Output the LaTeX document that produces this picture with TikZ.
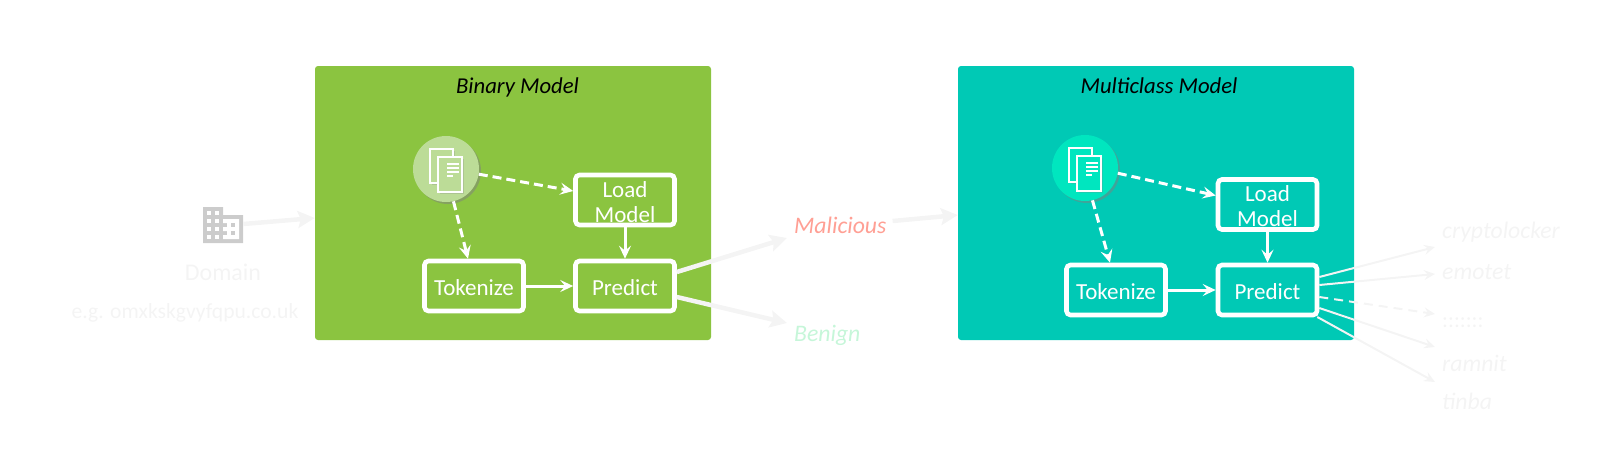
\documentclass[tikz,border=0pt]{standalone}
\usepackage{fontspec}
\setmainfont{Carlito}
\usetikzlibrary{arrows.meta,shadows}

\definecolor{binarygreen}{HTML}{8BC440}
\definecolor{multiteal}{HTML}{00C9B5}
\definecolor{bincircle}{HTML}{BCDC97}
\definecolor{multicircle}{HTML}{00E6BF}
\definecolor{fadedgray}{HTML}{F4F4F4}
\definecolor{maliciousred}{HTML}{FF9F94}
\definecolor{benigngreen}{HTML}{C6F6D9}

\tikzset{
	modelbox/.style={rounded corners=3pt, minimum width=396pt, minimum height=274pt, inner sep=0pt},
	modeltitle/.style={anchor=base, inner sep=0pt, font=\fontsize{22.7}{26}\selectfont\itshape},
	procbox/.style={draw=white, line width=4.6pt, rounded corners=4pt, minimum width=99pt, minimum height=50pt, inner sep=0pt, text=white, align=center, font=\fontsize{23}{25}\selectfont, text height=18pt, text depth=0pt},
	loadbox/.style={procbox, text height=44pt},
	flow/.style={white, line width=3pt, -{Stealth[length=13pt,width=12pt,inset=5pt]}},
	dashflow/.style={flow, dash pattern=on 9pt off 5pt},
	fadedflow/.style={fadedgray, line width=4.5pt, -{Stealth[length=17pt,width=17pt,inset=3pt]}},
	classflow/.style={fadedgray, line width=2pt, -{Stealth[length=11pt,width=10pt,inset=4pt]}},
	outlabel/.style={anchor=base west, inner sep=0pt, font=\fontsize{23.7}{27}\selectfont\itshape},
	classlabel/.style={outlabel, text=fadedgray},
	doccircle/.style={circle, minimum size=66pt, inner sep=0pt, drop shadow={shadow xshift=2pt, shadow yshift=-2pt, opacity=0.5}}
}

% two overlapping pages with text lines
\newcommand{\docicon}[2]{
	\begin{scope}[shift={(#1)}]
		\draw [white, line width=1.5pt, fill=#2, drop shadow={shadow xshift=1.5pt, shadow yshift=-1.5pt, opacity=0.25}] (-16,-20) rectangle (7,14);
		\draw [white, line width=1.5pt, fill=#2, drop shadow={shadow xshift=1.5pt, shadow yshift=-1.5pt, opacity=0.25}] (-8,-12) rectangle (16,23);
		\foreach \y/\e in {-5/13,-1/13,3/13,7/7}
			\draw [white, line width=1.4pt] (1,\y) -- (\e,\y);
	\end{scope}
}

\begin{document}
\begin{tikzpicture}[x=1pt,y=-1pt]

	\useasboundingbox (0,0) rectangle (1600,448);

	% model panels
	\node [modelbox, fill=binarygreen] (binary) at (513,203) {};
	\node [modelbox, fill=multiteal] (multi) at (1156,203) {};
	\node [modeltitle] (binarytitle) at (517.5,93) {Binary Model};
	\node [modeltitle] (multititle) at (1159,93) {Multiclass Model};

	% domain icon
	\node [minimum width=40pt, minimum height=36pt, inner sep=0pt] (domainicon) at (223,225) {};
	\begin{scope}[shift={(199,201)},x=2pt,y=-2pt]
		\fill [black!20] (2,3) -- (12,3) -- (12,7) -- (22,7) -- (22,21) -- (2,21) -- cycle;
		\foreach \i in {4,8}
			\foreach \j in {5,9,13,17}
				\fill [white] (\i,\j) rectangle ++(2,2);
		\fill [white] (12,9) -- (20,9) -- (20,19) -- (12,19) -- (12,17) -- (14,17) -- (14,15) -- (12,15) -- (12,13) -- (14,13) -- (14,11) -- (12,11) -- cycle;
		\foreach \j in {11,15}
			\fill [black!20] (16,\j) rectangle ++(2,2);
	\end{scope}
	\node [anchor=base, inner sep=0pt, text=fadedgray, font=\fontsize{24}{26}\selectfont] (domain) at (223,280) {Domain};
	\node [anchor=base, inner sep=0pt, text=fadedgray, font=\fontsize{21.6}{26}\selectfont] (example) at (185,318) {e.g. omxkskgvyfqpu.co.uk};

	% binary model
	\node [doccircle, fill=bincircle] (docbin) at (446,169) {};
	\docicon{446,169}{bincircle}
	\node [loadbox] (loadbin) at (625,200) {Load\\Model};
	\node [procbox] (tokenbin) at (474,286) {Tokenize};
	\node [procbox] (predbin) at (625,286) {Predict};
	\draw [dashflow] (docbin.-9) -- ([yshift=9pt]loadbin.west);
	\draw [dashflow] (docbin.-77) -- ([xshift=-6pt]tokenbin.north);
	\draw [flow] (loadbin) -- (predbin);
	\draw [flow] (tokenbin) -- (predbin);

	% multiclass model
	\node [doccircle, fill=multicircle] (docmulti) at (1085,168) {};
	\docicon{1085,168}{multicircle}
	\node [loadbox] (loadmulti) at (1267.5,204.5) {Load\\Model};
	\node [procbox] (tokenmulti) at (1116,290) {Tokenize};
	\node [procbox] (predmulti) at (1267.5,290) {Predict};
	\draw [dashflow] (docmulti.-9) -- ([yshift=9pt]loadmulti.west);
	\draw [dashflow] (docmulti.-77) -- ([xshift=-6pt]tokenmulti.north);
	\draw [flow] (loadmulti) -- (predmulti);
	\draw [flow] (tokenmulti) -- (predmulti);

	% results
	\node [outlabel, text=maliciousred] (malicious) at (794,233) {Malicious};
	\node [outlabel, text=benigngreen] (benign) at (794,341) {Benign};
	\draw [fadedflow] ([yshift=1pt]domainicon.east) -- ([yshift=-15pt]binary.west);
	\draw [fadedflow] ([yshift=14pt]predbin.east) -- ([xshift=-7pt,yshift=-5pt]malicious.base west);
	\draw [fadedflow] ([yshift=-11pt]predbin.east) -- ([xshift=-7pt,yshift=18pt]benign.base west);
	\draw [fadedflow] ([xshift=6pt,yshift=12pt]malicious.base east) -- ([yshift=-12pt]multi.west);

	% classes
	\node [classlabel] (crypto) at (1442,238) {cryptolocker};
	\node [classlabel] (emotet) at (1442,279) {emotet};
	\node [classlabel, font=\fontsize{22}{27}\selectfont] (others) at (1442,327) {:::::::};
	\node [classlabel] (ramnit) at (1442,371) {ramnit};
	\node [classlabel] (tinba) at (1442,409) {tinba};
	\draw [classflow] ([yshift=13pt]predmulti.east) -- ([xshift=-7pt,yshift=-9pt]crypto.base west);
	\draw [classflow] ([yshift=5pt]predmulti.east) -- ([xshift=-7pt,yshift=5pt]emotet.base west);
	\draw [classflow, dash pattern=on 9pt off 6pt] ([yshift=-7pt]predmulti.east) -- ([xshift=-7pt,yshift=13pt]others.base west);
	\draw [classflow] ([yshift=-18pt]predmulti.east) -- ([xshift=-7pt,yshift=24pt]ramnit.base west);
	\draw [classflow] ([xshift=-2pt,yshift=-27pt]predmulti.east) -- ([xshift=-7pt,yshift=27pt]tinba.base west);

\end{tikzpicture}
\end{document}
